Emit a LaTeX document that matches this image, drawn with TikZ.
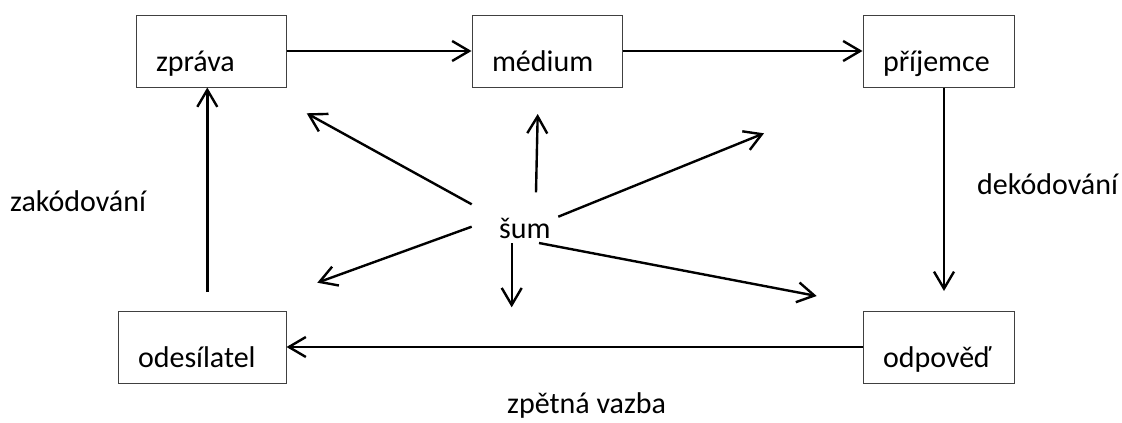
\documentclass[tikz,border=0pt]{standalone}
\usepackage{fontspec}
\setmainfont{Carlito}
\usetikzlibrary{arrows.meta}
\newcommand{\lblfont}{\fontsize{30}{36}\selectfont}
\tikzset{
  box/.style={draw=black!75, line width=1pt, inner xsep=20pt, inner ysep=0pt,
    minimum height=72pt, text height=46pt, text depth=6pt, align=left, font=\lblfont},
  arr/.style={line width=2.4pt, -{Straight Barb[length=17pt,width=20pt]}},
  lbl/.style={font=\lblfont, inner sep=0pt, anchor=base west},
}
\begin{document}
\begin{tikzpicture}[x=1pt,y=-1pt]
\useasboundingbox (0,0) rectangle (1122,423);
% boxes
\node[box, text width=110pt] (zprava) at (211,51) {zpráva};
\node[box, text width=110pt] (medium) at (547,51) {médium};
\node[box, text width=111pt] (prijemce) at (938.5,51) {příjemce};
\node[box, text width=128pt] (odesilatel) at (202,347.5) {odesílatel};
\node[box, text width=111pt] (odpoved) at (938.5,347) {odpověď};
% labels
\node[lbl] (zak) at (10,211) {zakódování};
\node[lbl] (dek) at (977,194) {dekódování};
\node[lbl] (zv) at (507,413) {zpětná vazba};
\node[lbl] (sum) at (499,238) {šum};
% main connectors
\draw[arr] (zprava.east) -- (medium.west);
\draw[arr] (medium.east) -- (prijemce.west);
\coordinate (dk) at (944,291);
\draw[arr] (prijemce.south -| dk) -- (dk);
\coordinate (zk) at (207.3,292);
\draw[arr] (zk) -- (zk |- zprava.south);
\draw[arr] (odpoved.west) -- (odpoved.west -| odesilatel.east);
% noise arrows
\coordinate (s1) at (471.7,204.3); \coordinate (t1) at (306.7,113.3);
\coordinate (s2) at (536,192.3);   \coordinate (t2) at (537.7,114);
\coordinate (s3) at (558.3,216.7); \coordinate (t3) at (764,133.3);
\coordinate (s4) at (471.7,226.7); \coordinate (t4) at (317.3,282.7);
\coordinate (s5) at (511.7,243.3); \coordinate (t5) at (511.7,307.3);
\coordinate (s6) at (539,243);     \coordinate (t6) at (816.7,296);
\foreach \i in {1,...,6} { \draw[arr] (s\i) -- (t\i); }
\end{tikzpicture}
\end{document}
